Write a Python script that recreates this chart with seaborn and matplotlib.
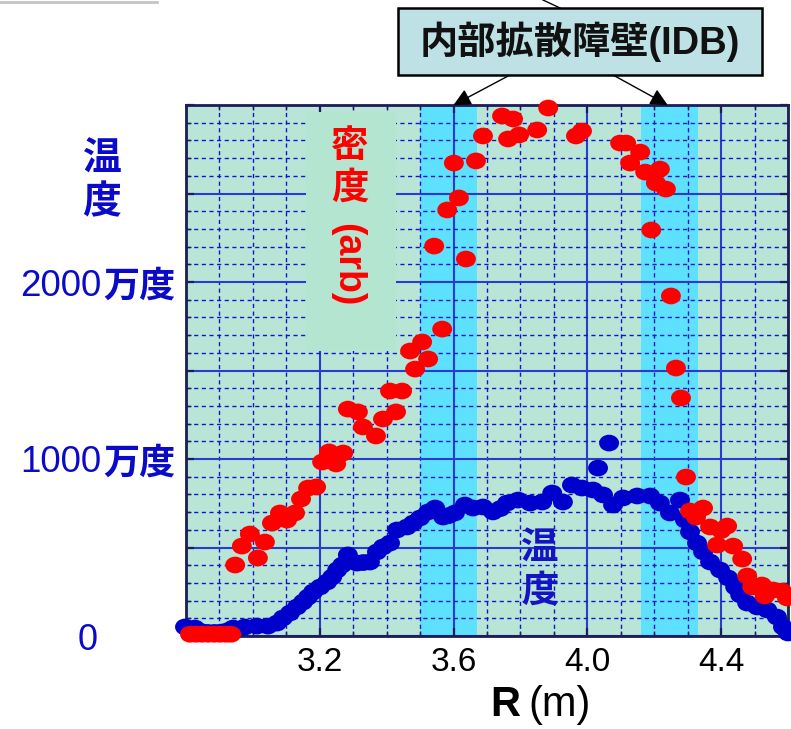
import numpy as np
import matplotlib
matplotlib.use("Agg")
import matplotlib.pyplot as plt
import matplotlib.transforms as mtransforms
import seaborn as sns
from matplotlib.markers import MarkerStyle
from matplotlib.path import Path
from matplotlib.patches import Rectangle
from matplotlib.lines import Line2D
from matplotlib.ticker import FixedLocator, MultipleLocator

# ---------------- data ----------------
# electron temperature profile: major radius R (m), temperature (10^4 K)
temp_r = [2.797, 2.827, 2.845, 2.865, 2.885, 2.905, 2.925, 2.941, 2.976, 3.012,
          3.045, 3.072, 3.090, 3.111, 3.132, 3.150, 3.165, 3.180, 3.201, 3.222,
          3.237, 3.252, 3.267, 3.284, 3.311, 3.330, 3.350, 3.371, 3.389, 3.410,
          3.431, 3.461, 3.479, 3.500, 3.524, 3.545, 3.569, 3.585, 3.604, 3.634,
          3.658, 3.688, 3.718, 3.740, 3.760, 3.793, 3.829, 3.865, 3.895, 3.927,
          3.954, 3.984, 4.017, 4.047, 4.077, 4.107, 4.149, 4.188, 4.217, 4.247,
          4.277, 4.292, 4.307, 4.328, 4.346, 4.367, 4.397, 4.421, 4.442, 4.457,
          4.478, 4.508, 4.538, 4.567, 4.585, 4.600, 4.032, 4.065]
temp_t = [51, 45, 25, 20, 20, 22, 30, 45, 51, 56,
          56, 73, 102, 130, 164, 192, 220, 249, 277, 305,
          333, 373, 401, 458, 412, 415, 418, 475, 503, 525,
          599, 616, 638, 667, 701, 723, 672, 680, 695, 740,
          723, 729, 701, 720, 751, 768, 751, 757, 808, 757,
          853, 836, 825, 797, 740, 780, 791, 791, 751, 695,
          768, 655, 588, 525, 475, 418, 373, 328, 277, 232,
          186, 164, 147, 107, 51, 17, 949, 1090]

# electron density profile: major radius R (m), density (arb. units)
dens_r = [2.812, 2.830, 2.848, 2.866, 2.884, 2.902, 2.920, 2.935,
          2.947, 2.967, 3.015, 2.991, 3.036, 3.057, 3.081, 3.102, 3.126, 3.144,
          3.165, 3.189, 3.207, 3.228, 3.249, 3.270, 3.284, 3.314, 3.329, 3.368,
          3.389, 3.428, 3.410, 3.446, 3.485, 3.470, 3.524, 3.506, 3.566, 3.542,
          3.637, 3.581, 3.616, 3.601, 3.667, 3.688, 3.745, 3.778, 3.763, 3.796,
          3.850, 3.883, 3.966, 3.984, 4.098, 4.116, 4.158, 4.128, 4.173, 4.217,
          4.205, 4.235, 4.191, 4.250, 4.265, 4.280, 4.295, 4.307, 4.346, 4.325,
          4.367, 4.418, 4.400, 4.388, 4.436, 4.463, 4.478, 4.493, 4.522, 4.531,
          4.555, 4.582, 4.597]
dens_n = [0.01, 0.01, 0.01, 0.01, 0.01, 0.01, 0.01, 0.01,
          0.401, 0.508, 0.441, 0.576, 0.531, 0.638, 0.695, 0.655, 0.695, 0.774,
          0.836, 0.842, 0.983, 1.040, 0.972, 1.034, 1.282, 1.266, 1.181, 1.130,
          1.226, 1.266, 1.384, 1.384, 1.508, 1.610, 1.565, 1.661, 1.734, 2.203,
          2.130, 2.407, 2.475, 2.672, 2.684, 2.825, 2.938, 2.921, 2.808, 2.831,
          2.859, 2.983, 2.825, 2.853, 2.785, 2.785, 2.734, 2.672, 2.621, 2.638,
          2.559, 2.525, 2.294, 1.921, 1.514, 1.345, 0.898, 0.706, 0.723, 0.672,
          0.616, 0.621, 0.596, 0.514, 0.508, 0.435, 0.339, 0.277, 0.288, 0.226,
          0.260, 0.254, 0.215]

# internal diffusion barrier regions (R ranges, m)
idb_bands = [(3.50, 3.67), (4.16, 4.33)]

x_ticks = [3.2, 3.6, 4.0, 4.4]
x_tick_labels = ["3.2", "3.6", "4.0", "4.4"]
y_ticks = [0, 1000, 2000]
y_tick_numbers = ["0", "1000", "2000"]
y_unit = "万度"

# ---------------- style ----------------
LATIN_CJK = ["Liberation Sans", "Noto Sans CJK JP", "DejaVu Sans"]
CJK = ["Noto Sans CJK JP", "DejaVu Sans"]
plt.rcParams["font.family"] = LATIN_CJK

BLUE_TXT = "#0A0AC8"
BLUE_PT = "#0000CC"
RED = "#FF0000"
BG = "#B9E5D7"
BAND = "#5EE1FF"
GRID_MAJ = "#2B3BCF"
GRID_MIN = "#1414CC"
SPINE = "#1C1C58"

fig = plt.figure(figsize=(7.91, 7.29), dpi=100)
W, H = 791.0, 729.0
ax = fig.add_axes([186 / W, 1 - 636 / H, 602 / W, 531 / H])
ax.set_facecolor(BG)
ax.set_xlim(2.8, 4.6)
ax.set_ylim(0, 3000)
ax.set_axisbelow(True)

for lo, hi in idb_bands:
    ax.axvspan(lo, hi, color=BAND, lw=0, zorder=0.2)

ax.xaxis.set_major_locator(FixedLocator(x_ticks))
ax.xaxis.set_minor_locator(MultipleLocator(0.1))
ax.yaxis.set_major_locator(MultipleLocator(500))
ax.yaxis.set_minor_locator(MultipleLocator(100))
ax.set_xticklabels(x_tick_labels)
ax.grid(which="major", color=GRID_MAJ, lw=1.5, ls="-")
ax.grid(which="minor", color=GRID_MIN, lw=1.0, ls=(0, (3, 2.5)))

# background panel for the density label
ax.add_patch(Rectangle((0.199, 0.537), 0.150, 0.450, transform=ax.transAxes,
                       facecolor="#B4E5D1", edgecolor="none", zorder=0.7))

dot = MarkerStyle(Path(Path.unit_circle().vertices * np.array([1.0, 0.84]),
                       Path.unit_circle().codes))

sns.scatterplot(x=temp_r, y=temp_t, ax=ax, color=BLUE_PT, marker=dot, s=205,
                linewidth=0, edgecolor="none", clip_on=False, zorder=3,
                legend=False)

ax2 = ax.twinx()
ax2.set_ylim(0, 3.0)
ax2.set_yticks([])
for sp in ax2.spines.values():
    sp.set_visible(False)
sns.scatterplot(x=dens_r, y=dens_n, ax=ax2, color=RED, marker=dot, s=205,
                linewidth=0, edgecolor="none", clip_on=False, zorder=3,
                legend=False)
ax2.set_xlim(2.8, 4.6)
ax2.set_xlabel("")
ax2.set_ylabel("")

for sp in ax.spines.values():
    sp.set_color(SPINE)
    sp.set_linewidth(2)
ax.tick_params(axis="both", which="both", direction="in", top=True,
               right=True, left=True, bottom=True, labelleft=False,
               colors=SPINE)
ax.tick_params(which="major", length=6, width=1.6)
ax.tick_params(which="minor", length=3.5, width=1.0)
ax.tick_params(axis="x", which="major", labelsize=24, pad=8,
               labelcolor="black")
ax.set_xlabel("")
ax.set_ylabel("")

# y-axis labels: number + unit
blend = mtransforms.blended_transform_factory(fig.transFigure, ax.transData)
for val, num in zip(y_ticks, y_tick_numbers):
    if val == 0:
        ax.text(88 / W, val, num, transform=blend, ha="center",
                va="center_baseline", fontsize=26, color=BLUE_TXT,
                clip_on=False)
    else:
        ax.text(101 / W, val, num, transform=blend, ha="right",
                va="center_baseline", fontsize=26.5, color=BLUE_TXT,
                clip_on=False)
        ax.text(103 / W, val, y_unit, transform=blend, ha="left",
                va="center_baseline", fontsize=26, fontweight="bold",
                family=CJK, color=BLUE_TXT, clip_on=False)

# axis titles
fig.text(102 / W, 1 - 159 / H, "温", ha="center", va="center", fontsize=28,
         fontweight="bold", family=CJK, color=BLUE_TXT)
fig.text(102 / W, 1 - 202 / H, "度", ha="center", va="center", fontsize=28,
         fontweight="bold", family=CJK, color=BLUE_TXT)
fig.text(520 / W, 1 - 705 / H, "R", ha="right", va="center", fontsize=30,
         fontweight="bold", color="black")
fig.text(528 / W, 1 - 705 / H, "(m)", ha="left", va="center", fontsize=30,
         color="black")

# in-plot labels
ax.text(0.588, 0.165, "温", transform=ax.transAxes, ha="center", va="center",
        fontsize=27, fontweight="bold", family=CJK, color="#1414C4", zorder=4)
ax.text(0.588, 0.086, "度", transform=ax.transAxes, ha="center", va="center",
        fontsize=27, fontweight="bold", family=CJK, color="#1414C4", zorder=4)
ax.text(0.272, 0.923, "密", transform=ax.transAxes, ha="center", va="center",
        fontsize=27, fontweight="bold", family=CJK, color=RED, zorder=4)
ax.text(0.272, 0.846, "度", transform=ax.transAxes, ha="center", va="center",
        fontsize=27, fontweight="bold", family=CJK, color=RED, zorder=4)
ax.text(0.268, 0.700, "(arb)", transform=ax.transAxes, ha="center",
        va="center", rotation=270, fontsize=27, fontweight="bold", color=RED,
        zorder=4)

# IDB callout box with arrows
fig.patches.append(Rectangle((398 / W, 1 - 75 / H), 364 / W, 67 / H,
                             transform=fig.transFigure, facecolor="#BDE1E4",
                             edgecolor="black", lw=1.8, zorder=5))
fig.text(580 / W, 1 - 42 / H, "内部拡散障壁(IDB)", ha="center", va="center",
         fontsize=27.5, fontweight="bold", family=LATIN_CJK, color="#111111",
         zorder=6)
for (lo, hi), x0 in zip(idb_bands, [510, 613]):
    tip = 3.60 if lo < 4 else 4.24
    ax.annotate("", xy=(tip, 3000), xycoords="data",
                xytext=(x0 / W, 1 - 75 / H), textcoords="figure fraction",
                arrowprops=dict(arrowstyle="-|>", color="black", lw=1.0,
                                mutation_scale=26, shrinkA=0, shrinkB=0),
                annotation_clip=False, zorder=6)
fig.lines.append(Line2D([560 / W, 543 / W], [1 - 8 / H, 1.0],
                        transform=fig.transFigure, color="black", lw=1.0))
fig.lines.append(Line2D([0, 157 / W], [1 - 1.5 / H, 1 - 1.5 / H],
                        transform=fig.transFigure, color="#C4C4C4", lw=2))

fig.savefig("out.png", dpi=100, facecolor="white")
